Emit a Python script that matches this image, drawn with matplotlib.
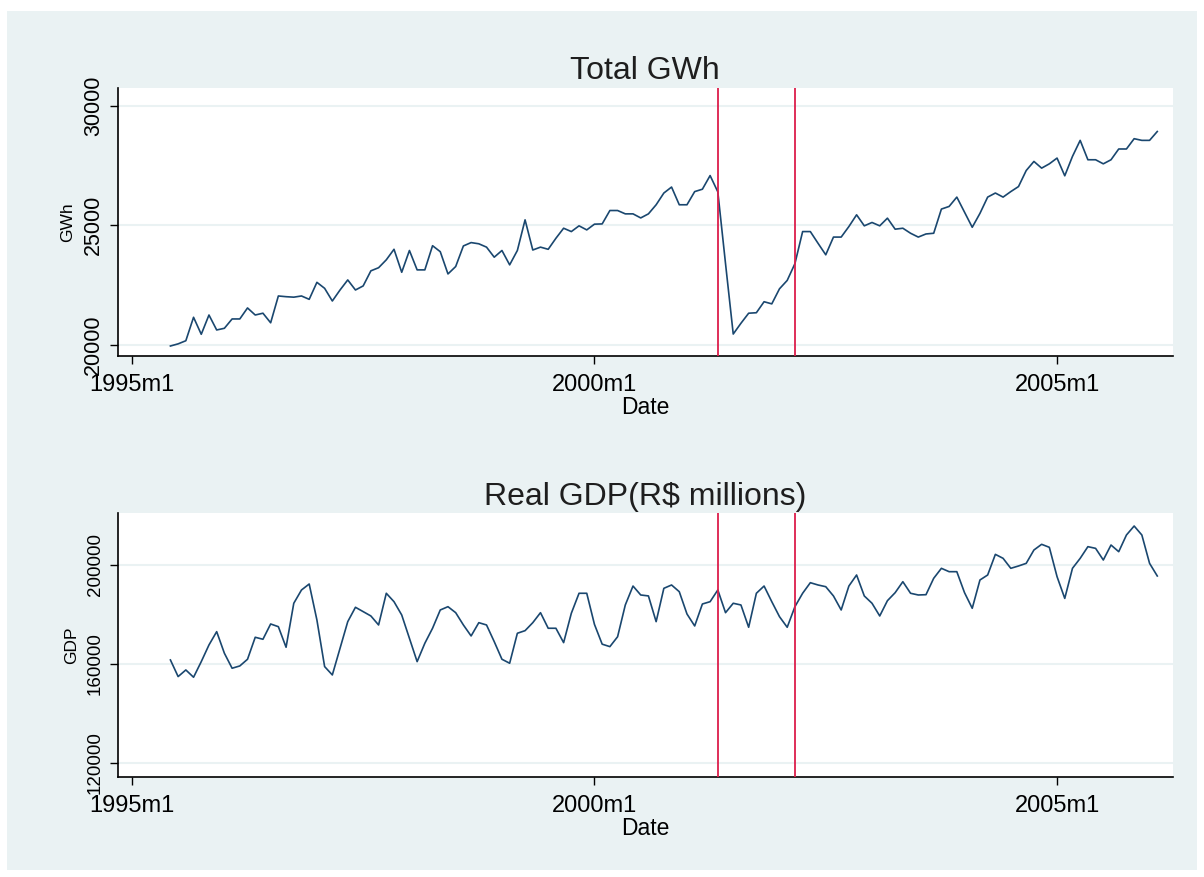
import numpy as np
import matplotlib
matplotlib.use('Agg')
import matplotlib.pyplot as plt
from matplotlib.patches import Rectangle

plt.rcParams['font.family'] = ['Liberation Sans', 'DejaVu Sans']

# monthly series, first observation 1995m6 (months counted from 1995m1)
start_month = 5

gwh = [19960, 20050, 20180, 21160, 20450, 21255, 20630, 20700, 21090, 21090,
       21550, 21255, 21330, 20930, 22050, 22020, 22000, 22050, 21910, 22620,
       22370, 21840, 22300, 22720, 22300, 22470, 23100, 23230, 23560, 24000,
       23040, 23950, 23140, 23140, 24150, 23900, 22970, 23280, 24140, 24280,
       24230, 24090, 23670, 23950, 23350, 23950, 25230, 23970, 24090, 24000,
       24460, 24880, 24740, 24980, 24810, 25050, 25060, 25620, 25620, 25480,
       25480, 25310, 25480, 25860, 26350, 26600, 25860, 25860, 26410, 26510,
       27080, 26400, 23400, 20460, 20910, 21330, 21350, 21810, 21720, 22350,
       22700, 23400, 24740, 24740, 24250, 23770, 24510, 24510, 24950, 25440,
       24980, 25120, 24980, 25300, 24840, 24880, 24670, 24510, 24640, 24670,
       25680, 25790, 26180, 25550, 24920, 25500, 26180, 26350, 26180, 26410,
       26620, 27290, 27670, 27390, 27570, 27810, 27070, 27880, 28550, 27740,
       27740, 27570, 27740, 28190, 28190, 28620, 28550, 28550, 28920]

gdp = [161620, 154900, 157580, 154630, 160940, 167680, 173060, 164330, 158270, 159200,
       161900, 170790, 169980, 176160, 175070, 166750, 184530, 189900, 192320, 177780,
       158940, 155560, 166350, 177100, 182910, 181130, 179400, 175760, 188570, 185170,
       179800, 170390, 160940, 168370, 174430, 181820, 183150, 180730, 175760, 171320,
       176690, 175760, 169020, 161900, 160290, 172410, 173460, 176690, 180730, 174430,
       174430, 168620, 180490, 188570, 188570, 176000, 168000, 167000, 171000, 183840,
       191500, 187880, 187500, 177100, 190570, 191920, 189210, 180200, 175360, 184240,
       185170, 189900, 180730, 184530, 183840, 174830, 188570, 191500, 185170, 179110,
       174830, 183150, 188570, 192850, 191920, 191230, 187480, 181820, 191500, 195960,
       187480, 184530, 179400, 185580, 188810, 193250, 188570, 187880, 188000, 194620,
       198660, 197300, 197300, 188810, 182500, 193940, 195960, 204300, 202700, 198660,
       199600, 200670, 206060, 208360, 207150, 195290, 186500, 198660, 202690, 207410,
       206730, 202020, 208080, 205380, 212120, 215760, 212120, 200670, 195560]

# vertical markers: 2001m5 and 2002m3
break_months = [76, 86]

x_ticks = [0, 60, 120]
x_labels = ['1995m1', '2000m1', '2005m1']

panels = [
    dict(y=gwh, title='Total GWh', ylabel='GWh', ytick_size=15.5,
         yticks=[20000, 25000, 30000], ylim=(19540, 30750),
         rect=[0.098, 0.594, 0.876, 0.306]),
    dict(y=gdp, title=r'Real GDP(R\$ millions)', ylabel='GDP', ytick_size=13.5,
         yticks=[120000, 160000, 200000], ylim=(114300, 221000),
         rect=[0.098, 0.114, 0.876, 0.301]),
]

navy = '#1a476f'
red = '#dc1e4b'
bg = '#eaf2f3'

fig = plt.figure(figsize=(12.04, 8.77), dpi=100, facecolor='white')
fig.patches.append(Rectangle((0.006, 0.008), 0.988, 0.98, transform=fig.transFigure,
                             facecolor=bg, edgecolor='none', zorder=-10))

months = np.arange(len(gwh)) + start_month

for p in panels:
    ax = fig.add_axes(p['rect'])
    ax.set_facecolor('white')
    ax.plot(months, p['y'], color=navy, linewidth=1.2, zorder=3)
    for m in break_months:
        ax.axvline(m, color=red, linewidth=1.3, zorder=4)

    ax.set_xlim(-1.8, 135)
    ax.set_ylim(*p['ylim'])
    ax.set_xticks(x_ticks)
    ax.set_xticklabels(x_labels, fontsize=17)
    ax.set_yticks(p['yticks'])
    ax.set_yticklabels([str(v) for v in p['yticks']], rotation=90,
                       va='center', fontsize=p['ytick_size'])
    ax.yaxis.grid(True, color=bg, linewidth=1.5)
    ax.set_axisbelow(True)
    ax.tick_params(direction='out', length=6, width=1, colors='black')
    ax.tick_params(axis='x', pad=7)
    ax.tick_params(axis='y', pad=4)
    for side in ['top', 'right']:
        ax.spines[side].set_visible(False)
    ax.spines['left'].set_linewidth(1.2)
    ax.spines['bottom'].set_linewidth(1.2)

    ax.set_title(p['title'], fontsize=23, color='#1e1e1e', pad=6)
    ax.set_xlabel('Date', fontsize=16.5, labelpad=0)
    ax.set_ylabel(p['ylabel'], fontsize=12.5, labelpad=6)

plt.savefig('out.png', dpi=100, facecolor='white')
plt.close()
